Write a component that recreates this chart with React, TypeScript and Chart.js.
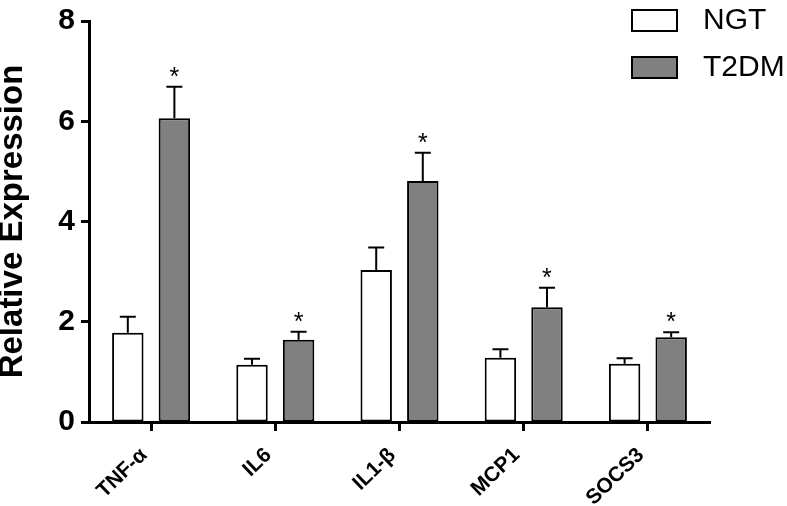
import { useEffect, useRef } from 'react';
import { Chart, registerables } from 'chart.js';

Chart.register(...registerables);

const categories = ['TNF-α', 'IL6', 'IL1-β', 'MCP1', 'SOCS3'];
const seriesNames = ['NGT', 'T2DM'];
const ngtValues = [1.78, 1.14, 3.03, 1.28, 1.16];
const ngtErrors = [0.32, 0.12, 0.45, 0.17, 0.11];
const t2dmValues = [6.06, 1.64, 4.81, 2.29, 1.69];
const t2dmErrors = [0.63, 0.16, 0.56, 0.39, 0.10];
const t2dmSignificant = [true, true, true, true, true];
const yMin = 0;
const yMax = 8;
const yStep = 2;

const FONT = '"Liberation Sans", Arial, Helvetica, sans-serif';

const errorsByDataset = [ngtErrors, t2dmErrors];
const starsByDataset: (boolean[] | null)[] = [null, t2dmSignificant];

const errorBarPlugin = {
  id: 'errorBars',
  afterDatasetsDraw(chart: any) {
    const ctx = chart.ctx;
    const yScale = chart.scales.y;
    chart.data.datasets.forEach((ds: any, di: number) => {
      const meta = chart.getDatasetMeta(di);
      const errs = errorsByDataset[di];
      const stars = starsByDataset[di];
      meta.data.forEach((bar: any, i: number) => {
        const v = ds.data[i] as number;
        const top = yScale.getPixelForValue(v + errs[i]);
        ctx.save();
        ctx.strokeStyle = '#000';
        ctx.lineWidth = 2;
        ctx.beginPath();
        ctx.moveTo(bar.x, bar.y);
        ctx.lineTo(bar.x, top);
        ctx.moveTo(bar.x - 8, top);
        ctx.lineTo(bar.x + 8, top);
        ctx.stroke();
        if (stars && stars[i]) {
          ctx.fillStyle = '#000';
          ctx.font = `25px ${FONT}`;
          ctx.textAlign = 'center';
          ctx.textBaseline = 'alphabetic';
          ctx.fillText('*', bar.x, top - 2);
        }
        ctx.restore();
      });
    });
  },
};

const legendPlugin = {
  id: 'sideLegend',
  afterDraw(chart: any) {
    const ctx = chart.ctx;
    const left = chart.width - 155;
    chart.data.datasets.forEach((ds: any, di: number) => {
      const top = 10 + di * 47;
      ctx.save();
      ctx.fillStyle = ds.backgroundColor;
      ctx.fillRect(left, top, 45, 21);
      ctx.strokeStyle = '#000';
      ctx.lineWidth = 2;
      ctx.strokeRect(left, top, 45, 21);
      ctx.fillStyle = '#000';
      ctx.font = `30px ${FONT}`;
      ctx.textAlign = 'left';
      ctx.textBaseline = 'middle';
      ctx.fillText(ds.label, left + 71, top + 11);
      ctx.restore();
    });
  },
};

export default function App() {
  const ref = useRef<HTMLCanvasElement | null>(null);

  useEffect(() => {
    if (!ref.current) return;
    const chart = new Chart(ref.current, {
      type: 'bar',
      data: {
        labels: categories,
        datasets: [
          {
            label: seriesNames[0],
            data: ngtValues,
            backgroundColor: '#ffffff',
            borderColor: '#000000',
            borderWidth: 2,
            borderSkipped: false,
            categoryPercentage: 0.75,
            barPercentage: 0.675,
          },
          {
            label: seriesNames[1],
            data: t2dmValues,
            backgroundColor: '#808080',
            borderColor: '#000000',
            borderWidth: 2,
            borderSkipped: false,
            categoryPercentage: 0.75,
            barPercentage: 0.675,
          },
        ],
      },
      options: {
        animation: false,
        responsive: true,
        maintainAspectRatio: false,
        layout: { padding: { left: 0, right: 77, top: 14, bottom: 0 } },
        plugins: {
          legend: { display: false },
          tooltip: { enabled: false },
        },
        scales: {
          x: {
            afterFit(scale: any) {
              scale.height = 84;
            },
            grid: {
              display: true,
              drawOnChartArea: false,
              drawTicks: true,
              offset: false,
              tickLength: 9,
              tickWidth: 3,
              tickColor: '#000',
            },
            border: { display: true, color: '#000', width: 3 },
            ticks: {
              color: '#000',
              minRotation: 44,
              maxRotation: 44,
              padding: 12,
              labelOffset: -7,
              font: { family: FONT, size: 21, weight: 'bold' },
            },
          },
          y: {
            min: yMin,
            max: yMax,
            afterFit(scale: any) {
              scale.width = 89;
            },
            grid: {
              display: true,
              drawOnChartArea: false,
              drawTicks: true,
              tickLength: 8,
              tickWidth: 3,
              tickColor: '#000',
            },
            border: { display: true, color: '#000', width: 3 },
            ticks: {
              stepSize: yStep,
              color: '#000',
              padding: 6,
              font: { family: FONT, size: 30, weight: 'bold', lineHeight: 1 },
            },
            title: {
              display: true,
              text: 'Relative Expression',
              color: '#000',
              padding: 0,
              font: { family: FONT, size: 33, weight: 'bold', lineHeight: 0.8 },
            },
          },
        },
      },
      plugins: [errorBarPlugin, legendPlugin],
    });
    return () => chart.destroy();
  }, []);

  return (
    <div style={{ position: 'absolute', left: 0, top: 0, width: 787, height: 506, background: '#fff' }}>
      <canvas ref={ref} />
    </div>
  );
}
